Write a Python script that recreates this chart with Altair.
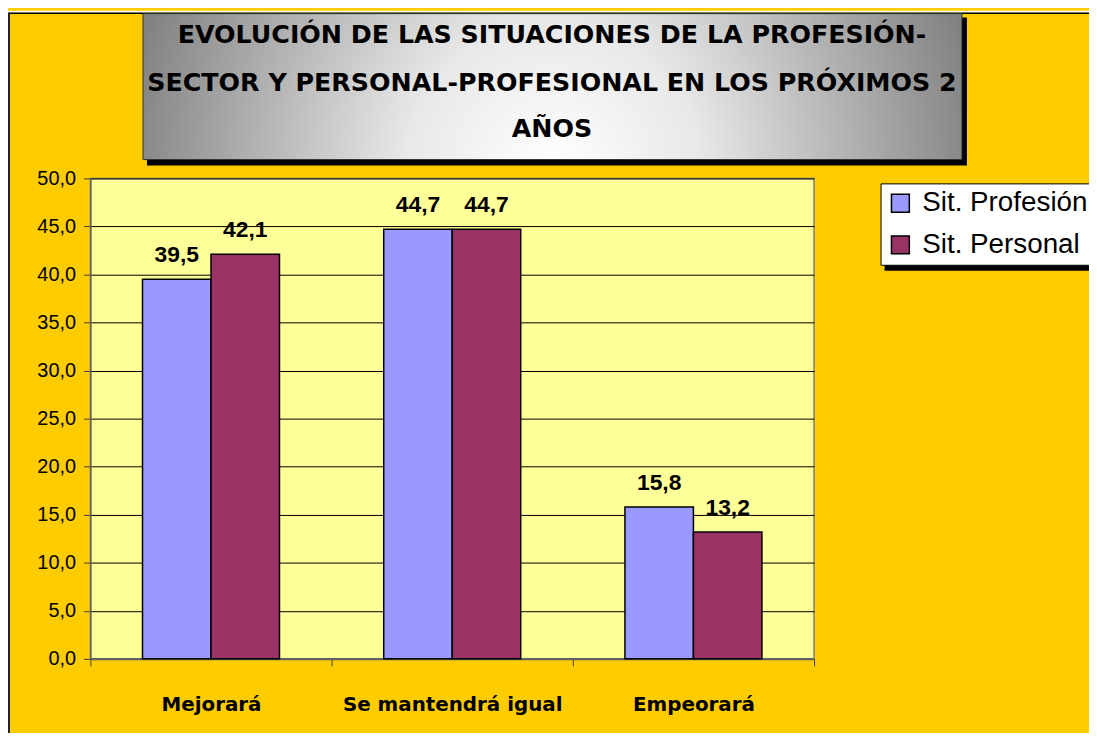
import altair as alt
import pandas as pd

CATEGORIES = ["Mejorará", "Se mantendrá igual", "Empeorará"]
SERIES = ["Sit. Profesión", "Sit. Personal"]
PROFESION = [39.5, 44.7, 15.8]
PERSONAL = [42.1, 44.7, 13.2]
COLORS = ["#9999FF", "#993366"]
Y_TICKS = [0, 5, 10, 15, 20, 25, 30, 35, 40, 45, 50]
TITLE_LINES = [
    "EVOLUCIÓN DE LAS SITUACIONES DE LA PROFESIÓN-",
    "SECTOR Y PERSONAL-PROFESIONAL EN LOS PRÓXIMOS 2",
    "AÑOS",
]

rows = []
for i, c in enumerate(CATEGORIES):
    rows.append({"cat": c, "serie": SERIES[0], "value": PROFESION[i]})
    rows.append({"cat": c, "serie": SERIES[1], "value": PERSONAL[i]})
df = pd.DataFrame(rows)
one = pd.DataFrame({"k": [0]})

W, H = 729, 484
FMT = "replace(format(datum.value, '.1f'), '.', ',')"

x = alt.X(
    "cat:N", sort=CATEGORIES,
    scale=alt.Scale(paddingInner=0, paddingOuter=0),
    axis=alt.Axis(title=None, labelFont="DejaVu Sans", labelFontWeight="bold",
                  labelFontSize=20, labelColor="black", labelAngle=0,
                  labelLimit=0, tickBand="extent", tickSize=7,
                  tickColor="#404040", domainColor="#606060", domainWidth=2,
                  labelPadding=29, grid=False),
)
xo = alt.XOffset("serie:N", sort=SERIES,
                 scale=alt.Scale(paddingOuter=0.761, paddingInner=0))
y = alt.Y(
    "value:Q",
    scale=alt.Scale(domain=[0, 50], nice=False),
    axis=alt.Axis(title=None, values=Y_TICKS, labelExpr=FMT,
                  labelFont="Liberation Sans", labelFontSize=20,
                  labelColor="black", tickSize=7, tickColor="#404040",
                  domainColor="#606060", domainWidth=1.5, gridColor="black",
                  gridWidth=1, gridOpacity=1, labelPadding=8),
)
color = alt.Color(
    "serie:N", sort=SERIES,
    scale=alt.Scale(domain=SERIES, range=COLORS),
    legend=alt.Legend(title=None, orient="none", legendX=796, legendY=5,
                      fillColor="white", strokeColor="black", padding=6,
                      symbolType="square", symbolSize=324,
                      symbolStrokeColor="black", symbolStrokeWidth=1.5,
                      symbolOpacity=1, labelFont="Liberation Sans",
                      labelFontSize=28, labelColor="black", labelLimit=400,
                      labelOffset=8, rowPadding=14),
)

top_strip = alt.Chart(one).mark_rect(color="white").encode(
    x=alt.value(-83), x2=alt.value(1010), y=alt.value(-169), y2=alt.value(-167))
top_border = alt.Chart(one).mark_rule(color="black", strokeWidth=1.5).encode(
    x=alt.value(-83), x2=alt.value(1010), y=alt.value(-166.5))
left_border = alt.Chart(one).mark_rule(color="#222222", strokeWidth=2).encode(
    x=alt.value(-82), y=alt.value(-167), y2=alt.value(560))

grad = alt.Gradient(
    gradient="radial",
    stops=[alt.GradientStop(offset=0, color="#ffffff"),
           alt.GradientStop(offset=0.3, color="#e8e8e8"),
           alt.GradientStop(offset=1, color="#6c6c6c")],
    x1=0.5, y1=0.6, r1=0, x2=0.5, y2=0.6, r2=0.6,
)
title_shadow = alt.Chart(one).mark_rect(color="black").encode(
    x=alt.value(57), x2=alt.value(883), y=alt.value(-162), y2=alt.value(-13))
title_box = alt.Chart(one).mark_rect(fill=grad, stroke="#333333", strokeWidth=1).encode(
    x=alt.value(53), x2=alt.value(878), y=alt.value(-166), y2=alt.value(-19))
title_texts = [
    alt.Chart(one).mark_text(font="DejaVu Sans", fontWeight="bold", fontSize=25.5,
                             color="black", align="center", baseline="middle").encode(
        x=alt.value(465), y=alt.value(yy), text=alt.value(t))
    for t, yy in zip(TITLE_LINES, [-144, -96, -50])
]
legend_shadow = alt.Chart(one).mark_rect(color="black").encode(
    x=alt.value(800), x2=alt.value(1010), y=alt.value(12), y2=alt.value(93))

bars = alt.Chart(df).mark_bar(stroke="black", strokeWidth=1.5).encode(
    x=x, xOffset=xo, y=y, color=color)
labels = alt.Chart(df).transform_calculate(label=FMT).mark_text(
    dy=-17, baseline="alphabetic", align="center", font="Liberation Sans",
    fontWeight="bold", fontSize=23, color="black").encode(
    x=x, xOffset=xo, y=y, text="label:N")

chart = alt.layer(
    top_strip, top_border, left_border, title_shadow, title_box, *title_texts,
    legend_shadow, bars, labels,
).properties(
    width=W, height=H,
    autosize=alt.AutoSizeParams(type="none"),
    padding={"left": 83, "top": 169, "right": 277, "bottom": 72},
).configure(background="#FFCC00").configure_view(
    fill="#FFFF99", stroke="#808080", strokeWidth=1.5)

chart.save("out.html", embed_options={"renderer": "svg", "actions": False})
